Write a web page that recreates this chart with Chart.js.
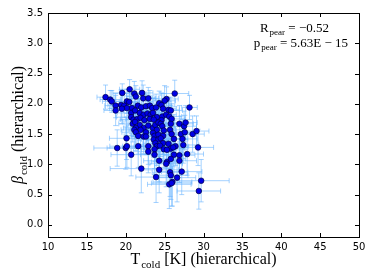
<!DOCTYPE html>
<html><head><meta charset="utf-8">
<script src="https://cdn.jsdelivr.net/npm/chart.js@4/dist/chart.umd.min.js"></script>
<style>html,body{margin:0;padding:0;background:#fff}canvas{display:block}</style>
</head><body>
<canvas id="c" width="374" height="280"></canvas>
<script>
// T_cold [K] (hierarchical)
const tCold = [17.4,18.0,18.2,18.7,18.7,18.9,19.55,20.5,21.1,21.3,22.1,22.25,22.9,26.3,25.25,25.0,20.15,20.45,28.2,19.4,
19.8,20.15,20.8,21.55,22.0,22.6,23.1,23.4,23.9,24.3,24.6,24.8,25.5,25.8,19.5,20.7,21.2,21.8,22.3,22.8,
23.2,23.5,24.0,24.7,25.2,25.6,20.7,21.0,21.5,21.9,22.4,23.1,23.6,24.6,25.9,20.9,21.2,21.8,22.3,22.9,
23.5,23.8,24.2,24.5,24.7,25.8,26.9,27.5,27.7,21.3,21.9,24.0,24.9,21.1,21.3,22.6,23.5,23.7,24.2,24.8,
25.7,25.9,27.1,27.6,28.6,29.1,21.6,22.3,22.6,20.1,23.6,24.2,24.5,26.2,27.3,23.8,24.8,24.0,24.4,25.5,
26.4,27.4,21.6,22.9,29.3,20.0,23.7,24.9,25.8,25.3,26.1,22.9,20.7,23.7,26.2,26.9,27.9,25.3,25.2,25.8,
26.9,24.3,22.0,24.3,25.7,27.2,25.8,23.9,26.6,29.7,26.0,25.6,25.9,29.4,20.15];
// beta_cold (hierarchical)
const betaCold = [2.11,2.07,2.04,1.97,1.89,1.27,2.18,2.24,2.17,2.12,2.18,2.09,2.09,2.17,2.08,2.05,2.04,2.03,1.94,1.98,
1.97,1.93,1.93,1.97,1.94,1.96,1.97,1.93,1.94,2.01,1.98,1.92,1.90,1.89,1.92,1.85,1.89,1.85,1.82,1.84,
1.82,1.85,1.78,1.79,1.82,1.79,1.78,1.74,1.75,1.77,1.73,1.75,1.74,1.73,1.75,1.67,1.70,1.65,1.60,1.64,
1.60,1.65,1.69,1.67,1.63,1.67,1.67,1.63,1.69,1.60,1.57,1.57,1.56,1.57,1.53,1.53,1.52,1.47,1.49,1.47,
1.57,1.50,1.50,1.53,1.50,1.55,1.47,1.46,1.46,1.43,1.41,1.41,1.43,1.42,1.42,1.35,1.35,1.30,1.31,1.34,
1.30,1.32,1.30,1.30,1.28,1.27,1.25,1.25,1.26,1.24,1.28,1.21,1.16,1.16,1.16,1.15,1.17,1.04,1.01,1.09,
1.06,1.06,0.93,0.91,0.87,0.88,0.82,0.79,0.78,0.73,0.71,0.67,0.69,0.56,1.30];
// error on T_cold
const tErr = [1.1,1.3,1.2,1.4,1.5,3.0,1.2,1.3,1.5,1.2,1.4,1.6,1.3,1.8,1.5,1.4,1.6,1.3,1.0,1.7,
1.5,1.4,1.6,1.2,1.5,1.3,1.6,1.4,1.5,1.2,1.3,1.7,1.4,1.5,1.6,1.8,1.5,1.4,1.6,1.5,
1.3,1.6,1.4,1.5,1.3,1.6,1.9,1.7,1.5,1.4,1.6,1.5,1.3,1.6,1.7,1.8,1.6,1.5,1.7,1.4,
1.5,1.6,1.3,1.5,1.6,1.7,1.8,1.6,1.5,1.6,1.5,1.4,1.6,1.7,1.8,1.5,1.4,1.6,1.5,1.7,
1.6,1.8,1.9,1.7,1.5,1.6,1.8,1.6,1.5,2.2,1.6,1.5,1.7,1.8,1.9,1.6,1.5,1.7,1.6,1.8,
1.7,2.0,2.0,1.8,2.0,2.4,1.7,1.6,1.8,1.7,1.9,1.9,2.6,1.8,1.9,2.0,2.1,2.0,2.1,1.9,
2.2,2.0,4.0,2.5,2.3,2.6,2.2,2.6,2.4,3.6,2.5,2.8,2.6,2.8,2.2];
// error on beta_cold
const betaErr = [0.2,0.15,0.18,0.2,0.25,0.3,0.15,0.16,0.2,0.18,0.2,0.22,0.18,0.22,0.2,0.25,0.2,0.22,0.2,0.25,
0.2,0.2,0.25,0.2,0.22,0.2,0.25,0.2,0.22,0.2,0.2,0.25,0.2,0.22,0.25,0.3,0.25,0.22,0.25,0.2,
0.22,0.25,0.2,0.22,0.2,0.25,0.3,0.28,0.25,0.22,0.25,0.2,0.22,0.25,0.25,0.3,0.28,0.25,0.3,0.25,
0.25,0.22,0.2,0.25,0.28,0.3,0.3,0.25,0.28,0.3,0.28,0.25,0.28,0.3,0.3,0.28,0.25,0.3,0.28,0.3,
0.25,0.3,0.3,0.28,0.3,0.25,0.3,0.28,0.3,0.35,0.3,0.28,0.3,0.3,0.32,0.3,0.3,0.32,0.3,0.3,
0.32,0.3,0.35,0.3,0.3,0.35,0.32,0.3,0.33,0.3,0.32,0.35,0.35,0.33,0.35,0.33,0.35,0.35,0.38,0.35,
0.36,0.35,0.4,0.38,0.4,0.38,0.4,0.42,0.4,0.35,0.4,0.4,0.38,0.3,0.35];

const xTicks = [10,15,20,25,30,35,40,45,50];
const yTicks = [0.0,0.5,1.0,1.5,2.0,2.5,3.0,3.5];
const xTitle = ['T','cold',' [K] (hierarchical)'];
const yTitle = ['β','cold',' (hierarchical)'];
const rPear = ['R','pear',' = −0.52'];
const pPear = ['p','pear',' = 5.63E − 15'];

const SERIF = '"Liberation Serif", "DejaVu Serif", serif';

function subText(ctx, parts, size, x, y, align, italicFirst) {
  const subSize = Math.round(size*0.68);
  const f0 = (italicFirst?'italic ':'') + size + 'px ' + SERIF;
  const f1 = subSize + 'px ' + SERIF;
  const f2 = size + 'px ' + SERIF;
  ctx.font = f0; const w0 = ctx.measureText(parts[0]).width;
  ctx.font = f1; const w1 = ctx.measureText(parts[1]).width;
  ctx.font = f2; const w2 = ctx.measureText(parts[2]).width;
  const total = w0 + w1 + w2 + 1;
  let sx = align === 'center' ? x - total/2 : (align === 'right' ? x - total : x);
  ctx.textAlign = 'left'; ctx.textBaseline = 'alphabetic'; ctx.fillStyle = '#000';
  ctx.font = f0; ctx.fillText(parts[0], sx, y); sx += w0 + 1;
  ctx.font = f1; ctx.fillText(parts[1], sx, y + size*0.22); sx += w1;
  ctx.font = f2; ctx.fillText(parts[2], sx, y);
}

const deco = {
  id: 'deco',
  beforeDatasetsDraw(chart) {
    const {ctx, scales:{x, y}} = chart;
    ctx.save();
    ctx.strokeStyle = 'rgba(105,180,255,0.6)';
    ctx.lineWidth = 1;
    const cap = 2.5;
    for (let i = 0; i < tCold.length; i++) {
      const px = x.getPixelForValue(tCold[i]), py = y.getPixelForValue(betaCold[i]);
      const x0 = x.getPixelForValue(tCold[i]-tErr[i]), x1 = x.getPixelForValue(tCold[i]+tErr[i]);
      const y0 = y.getPixelForValue(betaCold[i]-betaErr[i]), y1 = y.getPixelForValue(betaCold[i]+betaErr[i]);
      ctx.beginPath();
      ctx.moveTo(x0, py); ctx.lineTo(x1, py);
      ctx.moveTo(px, y0); ctx.lineTo(px, y1);
      ctx.moveTo(x0, py-cap); ctx.lineTo(x0, py+cap);
      ctx.moveTo(x1, py-cap); ctx.lineTo(x1, py+cap);
      ctx.moveTo(px-cap, y0); ctx.lineTo(px+cap, y0);
      ctx.moveTo(px-cap, y1); ctx.lineTo(px+cap, y1);
      ctx.stroke();
    }
    ctx.restore();
  },
  afterDraw(chart) {
    const {ctx, chartArea:a, scales:{x, y}} = chart;
    ctx.save();
    ctx.strokeStyle = '#000'; ctx.lineWidth = 1;
    ctx.strokeRect(Math.round(a.left)+0.5, Math.round(a.top)+0.5, Math.round(a.right-a.left), Math.round(a.bottom-a.top));
    const L = 4;
    ctx.beginPath();
    xTicks.forEach(v => {
      const px = Math.round(x.getPixelForValue(v)) + 0.5;
      ctx.moveTo(px, a.bottom); ctx.lineTo(px, a.bottom - L);
      ctx.moveTo(px, a.top); ctx.lineTo(px, a.top + L);
    });
    yTicks.forEach(v => {
      const py = Math.round(y.getPixelForValue(v)) + 0.5;
      ctx.moveTo(a.left, py); ctx.lineTo(a.left + L, py);
      ctx.moveTo(a.right, py); ctx.lineTo(a.right - L, py);
    });
    ctx.stroke();
    // axis titles
    subText(ctx, xTitle, 16, (a.left + a.right)/2, 264, 'center', false);
    ctx.save();
    ctx.translate(23, (a.top + a.bottom)/2);
    ctx.rotate(-Math.PI/2);
    subText(ctx, yTitle, 16, 0, 0, 'center', true);
    ctx.restore();
    // annotation
    subText(ctx, rPear, 13, 329, 32, 'right', false);
    subText(ctx, pPear, 13, 348, 47, 'right', false);
    ctx.restore();
  }
};

new Chart(document.getElementById('c'), {
  type: 'scatter',
  data: {
    datasets: [{
      data: tCold.map((t, i) => ({x: t, y: betaCold[i]})),
      pointRadius: 2.8,
      pointHoverRadius: 2.8,
      backgroundColor: '#0000e6',
      borderColor: '#000040',
      borderWidth: 0.7
    }]
  },
  options: {
    responsive: false,
    animation: false,
    devicePixelRatio: 1,
    layout: {padding: {left: 0, right: 15, top: 13, bottom: 0}},
    plugins: {legend: {display: false}, tooltip: {enabled: false}},
    scales: {
      x: {
        type: 'linear', min: 10, max: 50,
        afterBuildTicks: s => { s.ticks = xTicks.map(v => ({value: v})); },
        afterFit: s => { s.height = 43; },
        grid: {display: false, drawTicks: false},
        border: {display: false},
        ticks: {color: '#000', padding: 4, font: {family: '"DejaVu Sans"', size: 10}, callback: v => String(v), maxRotation: 0}
      },
      y: {
        type: 'linear', min: -0.2, max: 3.5,
        afterBuildTicks: s => { s.ticks = yTicks.map(v => ({value: v})); },
        afterFit: s => { s.width = 48; },
        grid: {display: false, drawTicks: false},
        border: {display: false},
        ticks: {color: '#000', padding: 5, font: {family: '"DejaVu Sans"', size: 10}, callback: v => Number(v).toFixed(1)}
      }
    }
  },
  plugins: [deco]
});
</script>
</body></html>
